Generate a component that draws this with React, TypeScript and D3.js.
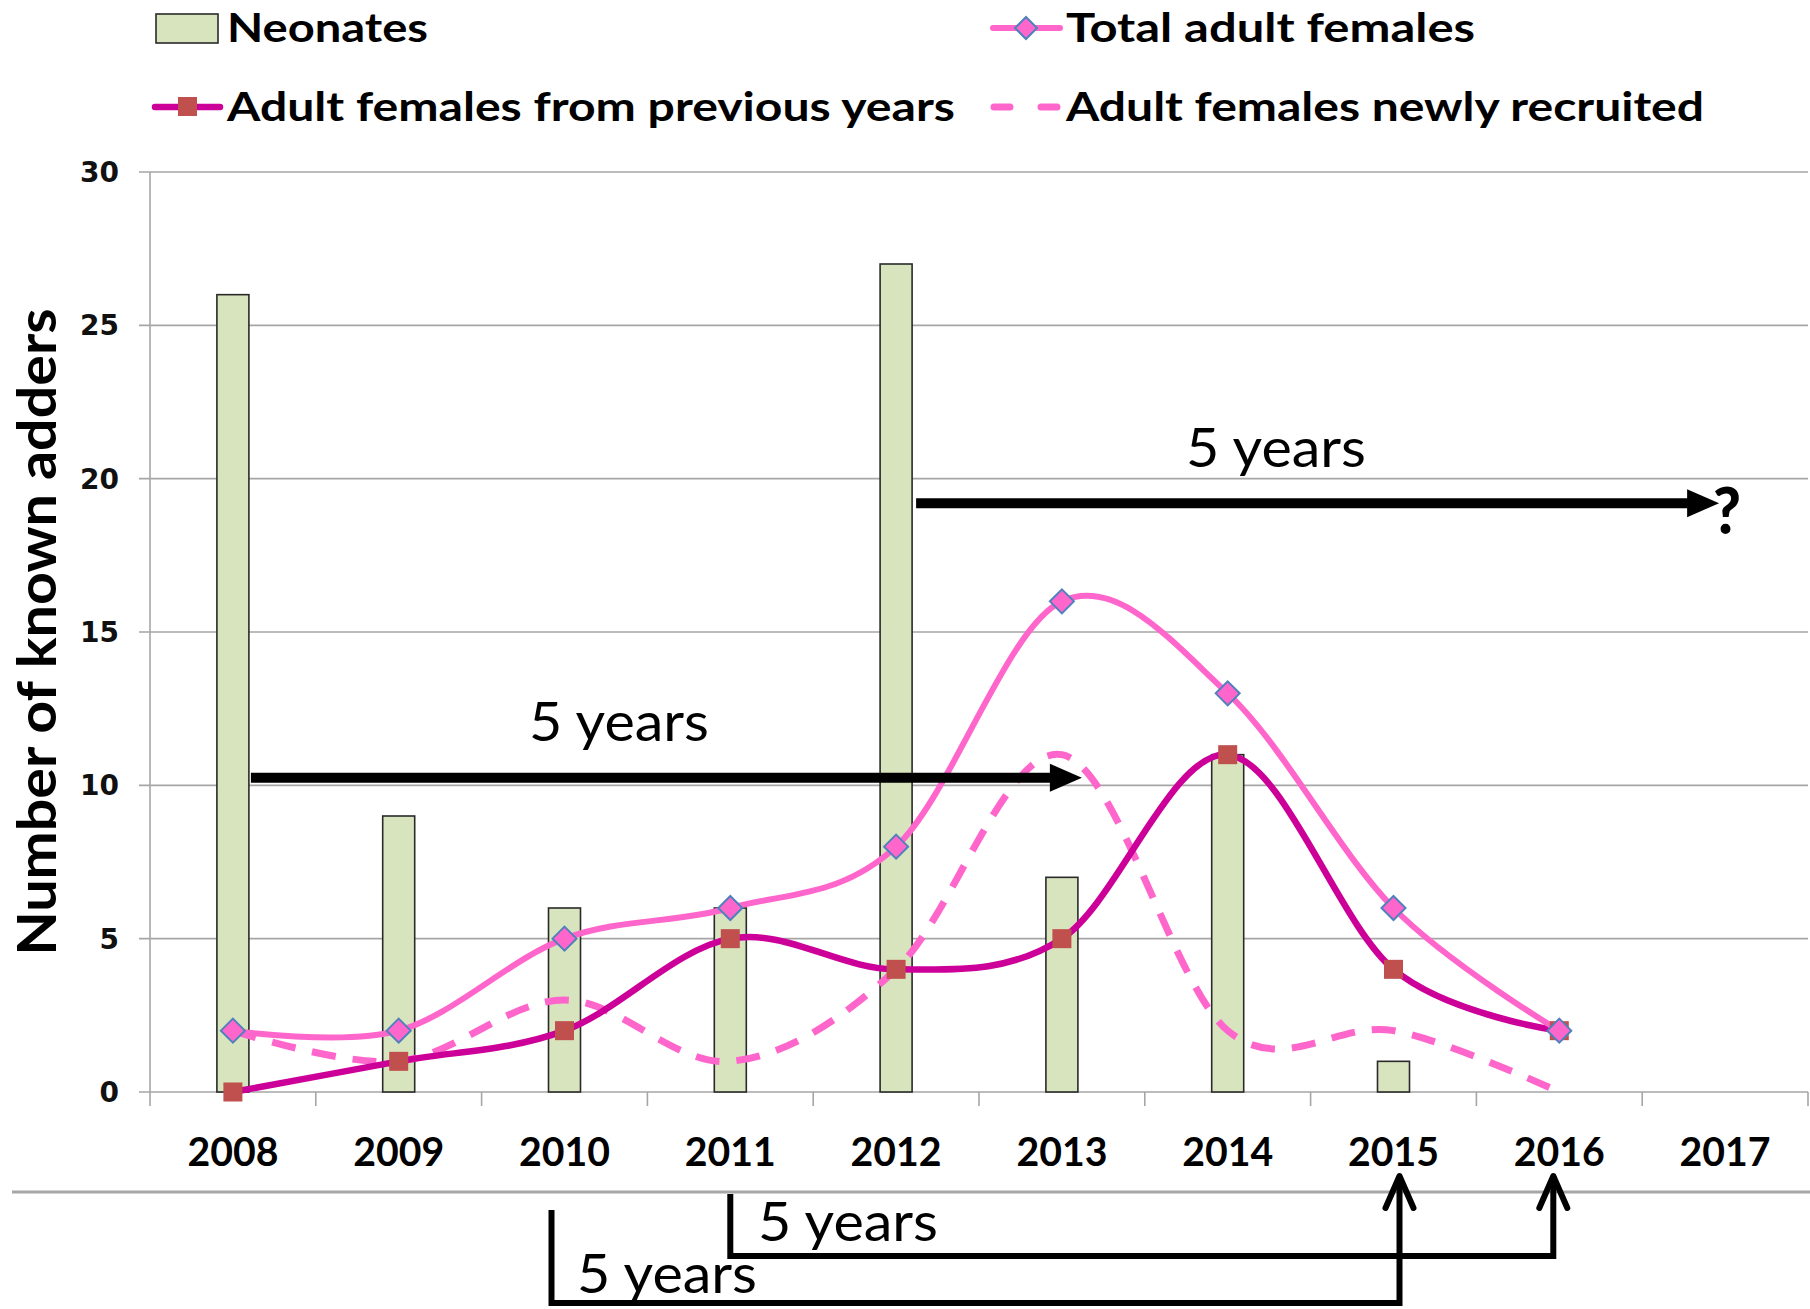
import React from 'react';
import * as d3 from 'd3';

// Survey years and yearly counts of known adders
const years = ['2008', '2009', '2010', '2011', '2012', '2013', '2014', '2015', '2016', '2017'];
const neonates = [26, 9, 6, 6, 27, 7, 11, 1, 0, 0];
const totalFemales = [2, 2, 5, 6, 8, 16, 13, 6, 2];
const previousFemales = [0, 1, 2, 5, 4, 5, 11, 4, 2];
const newFemales = [2, 1, 3, 1, 4, 11, 2, 2, 0];
const yTicks = [0, 5, 10, 15, 20, 25, 30];

const W = 1810;
const H = 1309;
const left = 150;
const right = 1808;
const top = 172;
const bottom = 1092;

const TOTAL_COLOR = '#ff66cc';
const PREV_COLOR = '#cc0099';
const BAR_FILL = '#d7e4bd';
const SQUARE_FILL = '#c0504d';
const DIAMOND_STROKE = '#4f81bd';

const LABEL_FONT = 'Lato, "Open Sans", sans-serif';

export default function App() {
  const x = d3.scaleBand<string>().domain(years).range([left, right]);
  const y = d3.scaleLinear().domain([0, 30]).range([bottom, top]);
  const cx = (yr: string) => (x(yr) as number) + x.bandwidth() / 2;
  const barW = 32;

  const curve = d3.curveCardinal.tension(0);
  const lineGen = d3
    .line<number>()
    .x((_, i) => cx(years[i]))
    .y((d) => y(d))
    .curve(curve);

  const diamond = (px: number, py: number, r = 12) =>
    `M${px},${py - r}L${px + r},${py}L${px},${py + r}L${px - r},${py}Z`;

  // annotation arrows placed on the chart scales
  const lowArrowY = y(10.25);
  const lowStart = cx('2008') + barW / 2 + 2;
  const lowEnd = cx('2013') + 20;
  const upArrowY = y(19.2);
  const upStart = cx('2012') + barW / 2 + 4;
  const upEnd = cx('2017') - 6;

  const sepY = 1192;
  const tipY = 1176;
  const aLeft = cx('2011');
  const aRight = cx('2016') - 6;
  const aBottom = 1256;
  const bLeft = cx('2010') - 13;
  const bRight = cx('2015') + 6;
  const bBottom = 1303;

  return (
    <svg
      width={W}
      height={H}
      viewBox={`0 0 ${W} ${H}`}
      style={{ position: 'absolute', left: 0, top: 0, background: '#fff' }}
    >
      <rect x={0} y={0} width={W} height={H} fill="#fff" />

      {/* gridlines and left ticks */}
      {yTicks.map((t) => (
        <g key={t}>
          <line x1={left - 11} x2={right} y1={y(t)} y2={y(t)} stroke="#a6a6a6" strokeWidth={1.6} />
          <text
            x={119}
            y={y(t)}
            dy="0.36em"
            textAnchor="end"
            fontFamily='"DejaVu Sans", Verdana, sans-serif'
            fontWeight="bold"
            fontSize={28}
            fill="#111"
          >
            {t}
          </text>
        </g>
      ))}
      <line x1={left} x2={left} y1={top} y2={bottom + 14} stroke="#a6a6a6" strokeWidth={1.6} />
      {years.map((yr) => (
        <line
          key={'tk' + yr}
          x1={(x(yr) as number) + x.bandwidth()}
          x2={(x(yr) as number) + x.bandwidth()}
          y1={bottom}
          y2={bottom + 14}
          stroke="#a6a6a6"
          strokeWidth={1.6}
        />
      ))}

      {/* x labels */}
      {years.map((yr) => (
        <text
          key={'xl' + yr}
          x={cx(yr)}
          y={1166}
          textAnchor="middle"
          fontFamily={LABEL_FONT}
          fontWeight="bold"
          fontSize={40}
          textLength={91}
          lengthAdjust="spacingAndGlyphs"
          fill="#000"
        >
          {yr}
        </text>
      ))}

      {/* y title */}
      <text
        transform={`translate(56, 632) rotate(-90)`}
        textAnchor="middle"
        fontFamily={LABEL_FONT}
        fontWeight="bold"
        fontSize={54}
        textLength={647}
        lengthAdjust="spacingAndGlyphs"
        fill="#000"
      >
        Number of known adders
      </text>

      {/* neonate bars */}
      {neonates.map((v, i) =>
        v > 0 ? (
          <rect
            key={'b' + i}
            x={cx(years[i]) - barW / 2}
            y={y(v)}
            width={barW}
            height={bottom - y(v)}
            fill={BAR_FILL}
            stroke="#2a2a2a"
            strokeWidth={1.6}
          />
        ) : null
      )}

      {/* female series */}
      <path
        d={lineGen(newFemales) || ''}
        fill="none"
        stroke={TOTAL_COLOR}
        strokeWidth={7}
        strokeDasharray="24 17"
      />
      <path d={lineGen(previousFemales) || ''} fill="none" stroke={PREV_COLOR} strokeWidth={6.5} />
      <path d={lineGen(totalFemales) || ''} fill="none" stroke={TOTAL_COLOR} strokeWidth={6} />

      {previousFemales.map((v, i) => (
        <rect
          key={'s' + i}
          x={cx(years[i]) - 9.5}
          y={y(v) - 9.5}
          width={19}
          height={19}
          fill={SQUARE_FILL}
        />
      ))}
      {totalFemales.map((v, i) => (
        <path
          key={'d' + i}
          d={diamond(cx(years[i]), y(v))}
          fill={TOTAL_COLOR}
          stroke={DIAMOND_STROKE}
          strokeWidth={2}
        />
      ))}

      {/* 5-year arrows */}
      <line x1={lowStart} x2={lowEnd - 28} y1={lowArrowY} y2={lowArrowY} stroke="#000" strokeWidth={10} />
      <path
        d={`M${lowEnd},${lowArrowY}L${lowEnd - 32},${lowArrowY - 14}L${lowEnd - 32},${lowArrowY + 14}Z`}
        fill="#000"
      />
      <text x={529} y={741} fontFamily={LABEL_FONT} fontSize={54} textLength={180} lengthAdjust="spacingAndGlyphs" fill="#000">
        5 years
      </text>

      <line x1={upStart} x2={upEnd - 28} y1={upArrowY} y2={upArrowY} stroke="#000" strokeWidth={10} />
      <path
        d={`M${upEnd},${upArrowY}L${upEnd - 32},${upArrowY - 14}L${upEnd - 32},${upArrowY + 14}Z`}
        fill="#000"
      />
      <text x={1186} y={467} fontFamily={LABEL_FONT} fontSize={54} textLength={180} lengthAdjust="spacingAndGlyphs" fill="#000">
        5 years
      </text>
      <text
        x={upEnd - 6}
        y={534}
        fontFamily={LABEL_FONT}
        fontWeight={900}
        fontSize={64}
        textLength={28}
        lengthAdjust="spacingAndGlyphs"
        fill="#000"
      >
        ?
      </text>

      {/* separator under the axis labels */}
      <line x1={12} x2={W} y1={sepY} y2={sepY} stroke="#a6a6a6" strokeWidth={3} />

      {/* brackets from hatching year to recruitment year */}
      <path
        d={`M${aLeft},${sepY + 2}V${aBottom}H${aRight}V${tipY}`}
        fill="none"
        stroke="#000"
        strokeWidth={6}
      />
      <path
        d={`M${aRight - 14},${tipY + 32}L${aRight},${tipY}L${aRight + 14},${tipY + 32}`}
        fill="none"
        stroke="#000"
        strokeWidth={6}
        strokeLinecap="round"
        strokeLinejoin="round"
      />
      <text x={758} y={1241} fontFamily={LABEL_FONT} fontSize={54} textLength={180} lengthAdjust="spacingAndGlyphs" fill="#000">
        5 years
      </text>

      <path
        d={`M${bLeft},${1210}V${bBottom}H${bRight}V${tipY}`}
        fill="none"
        stroke="#000"
        strokeWidth={6}
      />
      <path
        d={`M${bRight - 14},${tipY + 32}L${bRight},${tipY}L${bRight + 14},${tipY + 32}`}
        fill="none"
        stroke="#000"
        strokeWidth={6}
        strokeLinecap="round"
        strokeLinejoin="round"
      />
      <text x={577} y={1293} fontFamily={LABEL_FONT} fontSize={54} textLength={180} lengthAdjust="spacingAndGlyphs" fill="#000">
        5 years
      </text>

      {/* legend */}
      <rect x={156} y={14} width={62} height={29} fill={BAR_FILL} stroke="#2a2a2a" strokeWidth={1.6} />
      <text x={227} y={42} fontFamily={LABEL_FONT} fontWeight="bold" fontSize={41} textLength={201} lengthAdjust="spacingAndGlyphs" fill="#000">
        Neonates
      </text>

      <line x1={993} x2={1060} y1={28} y2={28} stroke={TOTAL_COLOR} strokeWidth={6} strokeLinecap="round" />
      <path d={diamond(1026, 28, 11)} fill={TOTAL_COLOR} stroke={DIAMOND_STROKE} strokeWidth={2} />
      <text x={1066} y={42} fontFamily={LABEL_FONT} fontWeight="bold" fontSize={41} textLength={409} lengthAdjust="spacingAndGlyphs" fill="#000">
        Total adult females
      </text>

      <line x1={155} x2={220} y1={107} y2={107} stroke={PREV_COLOR} strokeWidth={6.5} strokeLinecap="round" />
      <rect x={178} y={97} width={19} height={19} fill={SQUARE_FILL} />
      <text x={227} y={121} fontFamily={LABEL_FONT} fontWeight="bold" fontSize={41} textLength={728} lengthAdjust="spacingAndGlyphs" fill="#000">
        Adult females from previous years
      </text>

      <line
        x1={994}
        x2={1060}
        y1={107}
        y2={107}
        stroke={TOTAL_COLOR}
        strokeWidth={7}
        strokeLinecap="round"
        strokeDasharray="16 31"
      />
      <text x={1066} y={121} fontFamily={LABEL_FONT} fontWeight="bold" fontSize={41} textLength={638} lengthAdjust="spacingAndGlyphs" fill="#000">
        Adult females newly recruited
      </text>
    </svg>
  );
}
